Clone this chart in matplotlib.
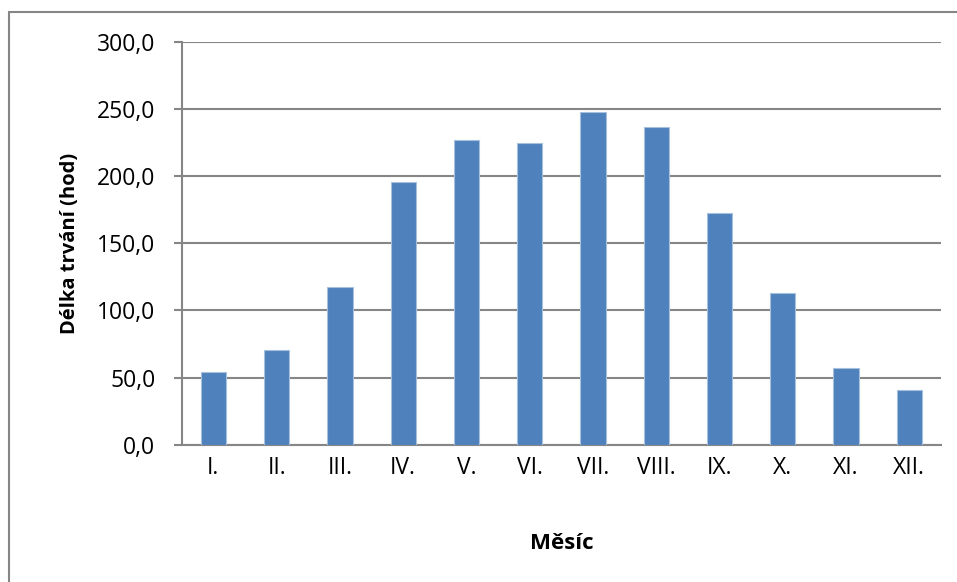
import matplotlib.pyplot as plt
from matplotlib.patches import Rectangle
import numpy as np

# Monthly sunshine duration (hours)
months = ['I.', 'II.', 'III.', 'IV.', 'V.', 'VI.', 'VII.', 'VIII.', 'IX.', 'X.', 'XI.', 'XII.']
hours = [54.3, 70.5, 117.1, 195.3, 227.0, 224.6, 247.4, 236.2, 172.2, 113.2, 57.1, 40.9]
yticks = [0, 50, 100, 150, 200, 250, 300]

plt.rcParams['font.family'] = ['Open Sans', 'DejaVu Sans']

grid_color = '#868686'
bar_color = '#4F81BD'

fig = plt.figure(figsize=(9.57, 5.82), dpi=100)
ax = fig.add_axes([181.7 / 957, 1 - 444.7 / 582, (941 - 181.7) / 957, (444.7 - 41.7) / 582])

x = np.arange(len(months))
ax.bar(x, hours, width=0.4, color=bar_color, edgecolor='#A7C0DE', linewidth=0.8, zorder=3)

ax.set_xlim(-0.5, len(months) - 0.5)
ax.set_ylim(0, 300)
ax.set_yticks(yticks)
ax.set_yticklabels([f'{v:.1f}'.replace('.', ',') for v in yticks])
ax.set_xticks(x)
ax.set_xticklabels(months)

ax.grid(axis='y', color=grid_color, linewidth=1.5, zorder=0)
for side in ['top', 'right']:
    ax.spines[side].set_visible(False)
for side in ['left', 'bottom']:
    ax.spines[side].set_color(grid_color)
    ax.spines[side].set_linewidth(1.5)

ax.tick_params(axis='y', length=6, width=1.5, color=grid_color, pad=13, labelsize=16.5)
ax.tick_params(axis='x', length=0, pad=8, labelsize=16.5)

ax.set_ylabel('Délka trvání (hod)', fontsize=14.5, fontweight='bold', labelpad=12)
ax.set_xlabel('Měsíc', fontsize=16, fontweight='bold', labelpad=38)

# chart frame
fig.patches.append(Rectangle((9 / 957, -0.1), 1.2, 1 - 12 / 582 + 0.1,
                             transform=fig.transFigure, fill=False,
                             edgecolor=grid_color, linewidth=1.5))

fig.savefig('out.png', dpi=100)
